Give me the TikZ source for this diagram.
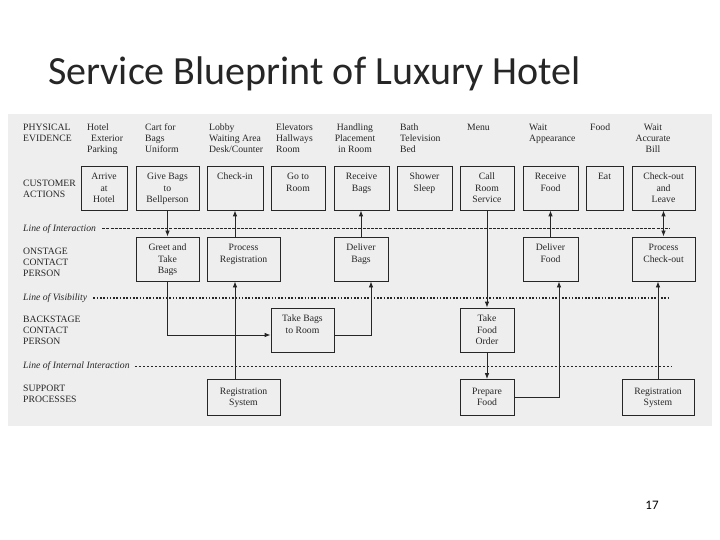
\documentclass[tikz,border=0pt]{standalone}
\usepackage{fontspec}
\setmainfont{Liberation Serif}
\newfontfamily\titlefont{Carlito}
\usetikzlibrary{arrows.meta}

\definecolor{panel}{HTML}{EEEEEE}
\definecolor{ink}{HTML}{262626}
\newcommand{\bpfont}{\fontsize{9.7}{11.2}\selectfont}
\newcommand{\toplines}[1]{\vbox to 32pt{\hbox{\begin{tabular}[t]{@{}c@{}}#1\end{tabular}}\vss}}
\newcommand{\leftlines}[1]{\begin{tabular}[t]{@{}l@{}}#1\end{tabular}}
\newcommand{\midlines}[1]{\begin{tabular}[t]{@{}c@{}}#1\end{tabular}}

\tikzset{
  stepbox/.style={draw=ink, line width=0.8pt, fill=panel, align=center, inner sep=0pt, minimum height=44pt},
  suppbox/.style={stepbox, minimum height=36pt},
  rowlabel/.style={anchor=west, inner sep=0pt},
  evid/.style={anchor=north west, inner sep=0pt},
  linelabel/.style={anchor=west, inner sep=0pt, font=\bpfont\itshape},
  flow/.style={draw=ink, line width=0.8pt, ->},
  interline/.style={draw=ink, line width=1pt, dash pattern=on 3pt off 1.2pt},
  visline/.style={draw=ink, line width=1.8pt, dash pattern=on 1.6pt off 1.7pt},
  internline/.style={draw=ink, line width=0.5pt, dash pattern=on 2.5pt off 1.5pt}
}

\begin{document}
\begin{tikzpicture}[x=1pt, y=-1pt, font=\bpfont, text=ink, >={Latex[length=6pt,width=4.5pt]}]
\useasboundingbox (0,0) rectangle (720,540);
\node[anchor=base west, inner sep=0pt, text=black!85, font=\titlefont\fontsize{40}{48}\selectfont] (title) at (48,85) {Service Blueprint of Luxury Hotel};
\fill[panel] (8,114) rectangle (712,426);
% row labels
\node[evid] (evlabel) at (23,122.5) {\leftlines{PHYSICAL\\EVIDENCE}};
\node[rowlabel] (calabel) at (23,189.5) {\leftlines{CUSTOMER\\ACTIONS}};
\node[rowlabel] (onlabel) at (23,263) {\leftlines{ONSTAGE\\CONTACT\\PERSON}};
\node[rowlabel] (backlabel) at (23,331) {\leftlines{BACKSTAGE\\CONTACT\\PERSON}};
\node[rowlabel] (suplabel) at (23,394.5) {\leftlines{SUPPORT\\PROCESSES}};
% physical evidence
\node[evid] (ev1) at (87,122.5) {\leftlines{Hotel\\\hspace{4pt}Exterior\\Parking}};
\node[evid] (ev2) at (145,122.5) {\leftlines{Cart for\\Bags\\Uniform}};
\node[evid] (ev3) at (209,122.5) {\leftlines{Lobby\\Waiting Area\\Desk/Counter}};
\node[evid] (ev4) at (276,122.5) {\leftlines{Elevators\\Hallways\\Room}};
\node[evid, anchor=north] (ev5) at (355,122.5) {\midlines{Handling\\Placement\\in Room}};
\node[evid] (ev6) at (400,122.5) {\leftlines{Bath\\Television\\Bed}};
\node[evid] (ev7) at (467,122.5) {\leftlines{Menu}};
\node[evid] (ev8) at (529,122.5) {\leftlines{Wait\\Appearance}};
\node[evid] (ev9) at (590,122.5) {\leftlines{Food}};
\node[evid, anchor=north] (ev10) at (653,122.5) {\midlines{Wait\\Accurate\\Bill}};
% customer actions
\node[stepbox, minimum width=46pt] (arrive) at (104,188) {\toplines{Arrive\\at\\Hotel}};
\node[stepbox, minimum width=63pt] (give) at (167.5,188) {\toplines{Give Bags\\to\\Bellperson}};
\node[stepbox, minimum width=56pt] (checkin) at (235,188) {\toplines{Check-in}};
\node[stepbox, minimum width=54pt] (goroom) at (298,188) {\toplines{Go to\\Room}};
\node[stepbox, minimum width=55pt] (recbags) at (361.5,188) {\toplines{Receive\\Bags}};
\node[stepbox, minimum width=55pt] (shower) at (424.5,188) {\toplines{Shower\\Sleep}};
\node[stepbox, minimum width=54pt] (callrs) at (487,188) {\toplines{Call\\Room\\Service}};
\node[stepbox, minimum width=55pt] (recfood) at (550.5,188) {\toplines{Receive\\Food}};
\node[stepbox, minimum width=37pt] (eat) at (604.5,188) {\toplines{Eat}};
\node[stepbox, minimum width=63pt] (checkout) at (663.5,188) {\toplines{Check-out\\and\\Leave}};
% lines
\node[linelabel] (interlabel) at (23,229) {Line of Interaction};
\coordinate (interend) at (670,229);
\draw[interline] ([xshift=6pt]interlabel.east) -- (interend);
\node[linelabel] (vislabel) at (23,298) {Line of Visibility};
\coordinate (visend) at (670,298);
\draw[visline] ([xshift=6pt]vislabel.east) -- (visend);
\node[linelabel] (internlabel) at (23,366) {Line of Internal Interaction};
\coordinate (internend) at (672,366);
\draw[internline] ([xshift=5pt]internlabel.east) -- (internend);
% onstage
\node[stepbox, minimum width=63pt] (greet) at (167.5,259) {\toplines{Greet and\\Take\\Bags}};
\node[stepbox, minimum width=73pt] (procreg) at (243.5,259) {\toplines{Process\\Registration}};
\node[stepbox, minimum width=54pt] (delbags) at (361,259) {\toplines{Deliver\\Bags}};
\node[stepbox, minimum width=55pt] (delfood) at (550.5,259) {\toplines{Deliver\\Food}};
\node[stepbox, minimum width=63pt] (proccheck) at (663.5,259) {\toplines{Process\\Check-out}};
% backstage
\node[stepbox, minimum width=63pt] (bagroom) at (302.5,330) {\toplines{Take Bags\\to Room}};
\node[stepbox, minimum width=54pt] (foodorder) at (487,330) {\toplines{Take\\Food\\Order}};
% support
\node[suppbox, minimum width=73pt] (regsys) at (243.5,397.5) {\midlines{Registration\\System}};
\node[suppbox, minimum width=54pt] (prepfood) at (487,397.5) {\midlines{Prepare\\Food}};
\node[suppbox, minimum width=72pt] (regsys2) at (658,397.5) {\midlines{Registration\\System}};
% connectors
\draw[flow] (give) -- (greet);
\draw[flow] (procreg.north -| checkin) -- (checkin.south);
\draw[flow] (delbags.north) -- (delbags.north |- recbags.south);
\draw[flow] (callrs) -- (foodorder);
\draw[flow] (delfood) -- (recfood);
\draw[flow, <->] (proccheck) -- (checkout);
\draw[flow] (greet.south) |- ([yshift=-5pt]bagroom.west);
\draw[flow] ([yshift=-5pt]bagroom.east) -| ([xshift=10pt]delbags.south);
\draw[flow] (regsys.north -| checkin) -- (procreg.south -| checkin);
\draw[flow] (foodorder) -- (prepfood);
\draw[flow] (prepfood.east) -| ([xshift=8.5pt]delfood.south);
\draw[flow] (regsys2.north) -- (regsys2.north |- proccheck.south);
\node[font=\titlefont\fontsize{13}{15}\selectfont, text=black] (pagenum) at (652,505) {17};
\end{tikzpicture}
\end{document}
